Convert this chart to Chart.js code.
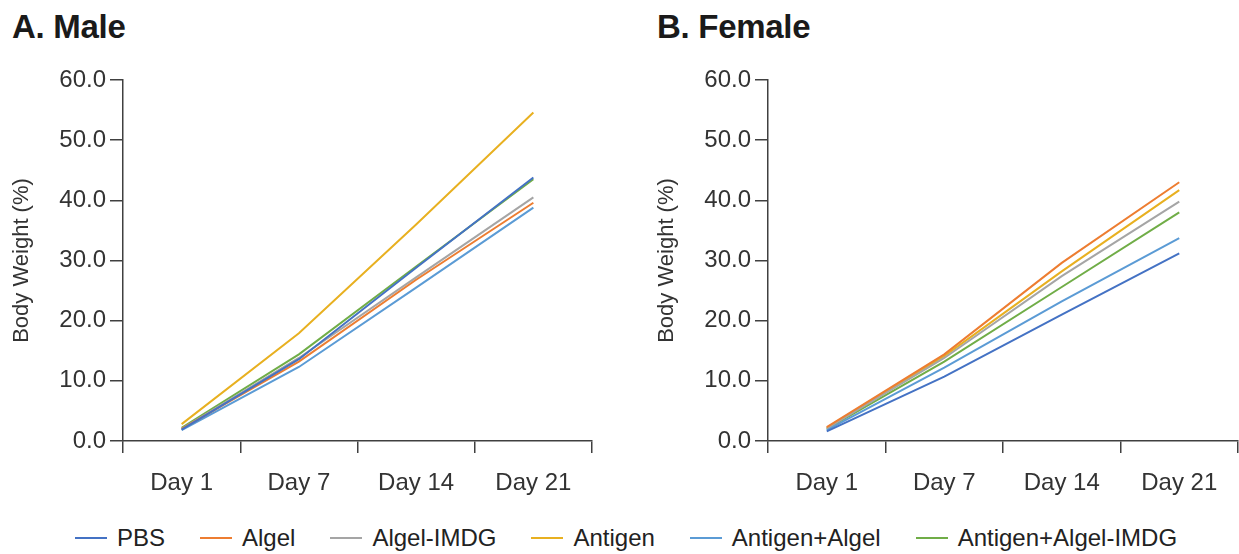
<!DOCTYPE html>
<html lang="en">
<head>
<meta charset="UTF-8" />
<title>Body Weight</title>
<script src="https://cdn.jsdelivr.net/npm/chart.js@4.4.1/dist/chart.umd.min.js"></script>
<style>
  body { margin: 0; background: #fff; font-family: 'Liberation Sans', Arial, sans-serif; }
  .wrap { position: relative; width: 1239px; height: 554px; overflow: hidden; }
  .box { position: absolute; top: 0; height: 500px; }
  h2 { position: absolute; margin: 0; font-size: 33px; font-weight: bold; color: #1a1a1a; top: 8px; letter-spacing: -0.3px; }
  #legend { position: absolute; left: 75px; top: 524px; display: flex; align-items: center; font-size: 24px; color: #222; }
  #legend .item { display: flex; align-items: center; margin-right: 35px; }
  #legend .swatch { width: 32px; height: 2px; margin-right: 10px; }
</style>
</head>
<body>
<div class="wrap">
  <h2 style="left:12px">A. Male</h2>
  <h2 style="left:657px">B. Female</h2>
  <div class="box" style="left:0;width:620px"><canvas id="male"></canvas></div>
  <div class="box" style="left:620px;width:619px"><canvas id="female"></canvas></div>
  <div id="legend"></div>
</div>
<script>
const days = ['Day 1', 'Day 7', 'Day 14', 'Day 21'];
const groups = ['PBS', 'Algel', 'Algel-IMDG', 'Antigen', 'Antigen+Algel', 'Antigen+Algel-IMDG'];
const colors = ['#4472C4', '#ED7D31', '#A5A5A5', '#E8B020', '#5B9BD5', '#70AD47'];

const malePBS = [1.9, 13.6, 28.8, 43.8];
const maleAlgel = [2.0, 13.2, 26.8, 39.6];
const maleAlgelIMDG = [2.0, 13.8, 27.2, 40.5];
const maleAntigen = [2.8, 17.9, 36.0, 54.6];
const maleAntigenAlgel = [1.8, 12.3, 25.5, 38.8];
const maleAntigenAlgelIMDG = [2.2, 14.4, 29.0, 43.5];

const femalePBS = [1.6, 10.7, 21.0, 31.2];
const femaleAlgel = [2.3, 14.4, 29.6, 43.0];
const femaleAlgelIMDG = [2.1, 13.8, 27.4, 39.8];
const femaleAntigen = [2.2, 14.1, 28.2, 41.7];
const femaleAntigenAlgel = [1.8, 12.2, 23.2, 33.7];
const femaleAntigenAlgelIMDG = [2.0, 13.2, 25.6, 38.0];

const yTicks = [0, 10, 20, 30, 40, 50, 60];

const axisColor = '#404040';
const tickFont = { family: "'Liberation Sans', Arial, sans-serif", size: 24 };

function makeChart(id, series, padLeft, padRight) {
  const ctx = document.getElementById(id).getContext('2d');
  return new Chart(ctx, {
    type: 'line',
    data: {
      labels: days,
      datasets: series.map((d, i) => ({
        label: groups[i],
        data: d,
        borderColor: colors[i],
        backgroundColor: colors[i],
        borderWidth: 2,
        pointRadius: 0,
        tension: 0,
        fill: false
      }))
    },
    options: {
      responsive: true,
      maintainAspectRatio: false,
      animation: false,
      layout: { padding: { top: 80, left: padLeft, right: padRight, bottom: 0 } },
      plugins: { legend: { display: false }, tooltip: { enabled: false } },
      scales: {
        x: {
          offset: true,
          grid: { offset: true, drawOnChartArea: false, drawTicks: true, tickLength: 12, color: axisColor, lineWidth: 1.5 },
          border: { display: true, color: axisColor, width: 1.5 },
          ticks: { color: '#333', font: tickFont, padding: 16, maxRotation: 0 },
          afterFit: s => { s.height = 59; }
        },
        y: {
          min: 0,
          max: 60,
          afterBuildTicks: s => { s.ticks = yTicks.map(v => ({ value: v })); },
          grid: { drawOnChartArea: false, drawTicks: true, tickLength: 13, color: axisColor, lineWidth: 1.5 },
          border: { display: true, color: axisColor, width: 1.5 },
          ticks: { color: '#333', font: tickFont, padding: 4, callback: v => v.toFixed(1) },
          title: { display: true, text: 'Body Weight (%)', color: '#333', font: { family: tickFont.family, size: 22 }, padding: { top: 9, bottom: 0 } },
          afterFit: s => { s.width = 123; }
        }
      }
    }
  });
}

makeChart('male', [malePBS, maleAlgel, maleAlgelIMDG, maleAntigen, maleAntigenAlgel, maleAntigenAlgelIMDG], 0, 28);
makeChart('female', [femalePBS, femaleAlgel, femaleAlgelIMDG, femaleAntigen, femaleAntigenAlgel, femaleAntigenAlgelIMDG], 25, 1);

const legend = document.getElementById('legend');
groups.forEach((g, i) => {
  const item = document.createElement('div');
  item.className = 'item';
  const sw = document.createElement('span');
  sw.className = 'swatch';
  sw.style.background = colors[i];
  const txt = document.createElement('span');
  txt.textContent = g;
  item.appendChild(sw);
  item.appendChild(txt);
  legend.appendChild(item);
});
</script>
</body>
</html>
